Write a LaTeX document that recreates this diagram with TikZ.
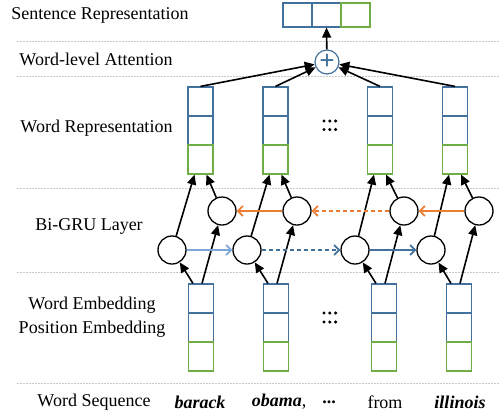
\documentclass[tikz,border=0pt]{standalone}
\usepackage{fontspec}
\setmainfont{Liberation Serif}
\usetikzlibrary{arrows.meta}
\definecolor{myblue}{HTML}{41719C}
\definecolor{mylightblue}{HTML}{7DA7D9}
\definecolor{mygreen}{HTML}{70AD47}
\definecolor{myorange}{HTML}{ED7D31}
\definecolor{sepgray}{HTML}{C8C8C8}
\tikzset{
  cell/.style={draw, line width=1.2pt, minimum width=25pt, minimum height=29pt, inner sep=0pt, fill=white},
  bluecell/.style={cell, draw=myblue},
  greencell/.style={cell, draw=mygreen},
  gru/.style={circle, draw, line width=1.3pt, minimum size=28pt, inner sep=0pt},
  arr/.style={-{Triangle[length=10pt,width=9pt]}, line width=1.6pt},
  harr/.style={-{Straight Barb[length=5pt,width=10pt]}, line width=1.8pt},
  sep/.style={sepgray, line width=0.8pt, dash pattern=on 2pt off 1pt},
  lab/.style={font=\fontsize{18}{21}\selectfont, inner sep=0pt},
  dot/.style={fill, circle, inner sep=0pt, minimum size=3.4pt},
}

\begin{document}
\begin{tikzpicture}[x=1pt, y=-1pt]
        \useasboundingbox (0,0) rectangle (499,416);
        % layer separators
        \draw[sep] (17,41) -- (499,41); \draw[sep] (17,76) -- (499,76);
        \draw[sep] (17,188) -- (499,188); \draw[sep] (17,272) -- (499,272);
        \draw[sep] (17,383) -- (499,383);
        % layer names
        \node[lab] (lsent) at (100,15) {Sentence Representation};
        \node[lab] (latt) at (96,59) {Word-level Attention};
        \node[lab] (lrep) at (96.5,128) {Word Representation};
        \node[lab] (lgru) at (89,226) {Bi-GRU Layer};
        \node[lab] (lemb) at (92,305) {Word Embedding};
        \node[lab] (lpos) at (92,329) {Position Embedding};
        \node[lab] (lseq) at (94,402) {Word Sequence};
        % sentence representation
        \node[bluecell, minimum width=29pt, minimum height=24pt] (s1) at (297.5,15) {};
        \node[bluecell, minimum width=29pt, minimum height=24pt] (s2) at (326.5,15) {};
        \node[greencell, minimum width=29pt, minimum height=24pt] (s3) at (355.5,15) {};
        \node[circle, draw=myblue, line width=1.2pt, minimum size=24pt, inner sep=0pt, text=myblue,
              font=\fontsize{27}{27}\selectfont\bfseries] (plus) at (327,62) {+};
        % word representation
        \node[bluecell] (r1a) at (200.5,101.5) {}; \node[bluecell] (r1b) at (200.5,130.5) {}; \node[greencell] (r1c) at (200.5,159.5) {};
        \node[bluecell] (r2a) at (275.5,101.5) {}; \node[bluecell] (r2b) at (275.5,130.5) {}; \node[greencell] (r2c) at (275.5,159.5) {};
        \node[bluecell] (r3a) at (380,101.5) {}; \node[bluecell] (r3b) at (380,130.5) {}; \node[greencell] (r3c) at (380,159.5) {};
        \node[bluecell] (r4a) at (455,101.5) {}; \node[bluecell] (r4b) at (455,130.5) {}; \node[greencell] (r4c) at (455,159.5) {};
        % bi-gru cells
        \node[gru] (l1) at (172,250) {}; \node[gru] (l2) at (247,250) {}; \node[gru] (l3) at (355,250) {}; \node[gru] (l4) at (431,250) {};
        \node[gru] (u1) at (222,211) {}; \node[gru] (u2) at (297,211) {}; \node[gru] (u3) at (404,211) {}; \node[gru] (u4) at (479,211) {};
        % embeddings
        \node[bluecell] (e1a) at (201,298.5) {}; \node[bluecell] (e1b) at (201,327.5) {}; \node[greencell] (e1c) at (201,356.5) {};
        \node[bluecell] (e2a) at (276,298.5) {}; \node[bluecell] (e2b) at (276,327.5) {}; \node[greencell] (e2c) at (276,356.5) {};
        \node[bluecell] (e3a) at (384,298.5) {}; \node[bluecell] (e3b) at (384,327.5) {}; \node[greencell] (e3c) at (384,356.5) {};
        \node[bluecell] (e4a) at (459,298.5) {}; \node[bluecell] (e4b) at (459,327.5) {}; \node[greencell] (e4c) at (459,356.5) {};
        % elided columns
        \foreach \dx in {-5.8,0,5.8}
          \foreach \dy in {121,129.5,313,322}
            \node[dot] at (329.8+\dx,\dy) {};
        % word sequence
        \node[lab] (w1) at (200,402) {\textbf{\textit{barack}}};
        \node[lab] (w2) at (279,402) {\textbf{\textit{obama}},};
        \node[lab] (w3) at (329,402) {\textbf{...}};
        \node[lab] (w4) at (385,402) {from};
        \node[lab] (w5) at (460,402) {\textbf{\textit{illinois}}};
        % embeddings into the gru
        \draw[arr] ([xshift=-8pt]e1a.north) -- (l1); \draw[arr] ([xshift=1pt]e1a.north) -- (u1);
        \draw[arr] ([xshift=-8pt]e2a.north) -- (l2); \draw[arr] ([xshift=1pt]e2a.north) -- (u2);
        \draw[arr] ([xshift=-8pt]e3a.north) -- (l3); \draw[arr] ([xshift=1pt]e3a.north) -- (u3);
        \draw[arr] ([xshift=-8pt]e4a.north) -- (l4); \draw[arr] ([xshift=1pt]e4a.north) -- (u4);
        % gru into word representation
        \draw[arr] (l1) -- ([xshift=-6pt]r1c.south); \draw[arr] (u1) -- ([xshift=6pt]r1c.south);
        \draw[arr] (l2) -- ([xshift=-6pt]r2c.south); \draw[arr] (u2) -- ([xshift=6pt]r2c.south);
        \draw[arr] (l3) -- ([xshift=-6pt]r3c.south); \draw[arr] (u3) -- ([xshift=6pt]r3c.south);
        \draw[arr] (l4) -- ([xshift=-6pt]r4c.south); \draw[arr] (u4) -- ([xshift=6pt]r4c.south);
        % forward and backward passes
        \draw[harr, mylightblue] (l1) -- (l2);
        \draw[harr, myblue, dash pattern=on 4pt off 3pt] (l2) -- (l3);
        \draw[harr, myblue] (l3) -- (l4);
        \draw[harr, myorange] (u4) -- (u3);
        \draw[harr, myorange, dash pattern=on 4pt off 3pt] (u3) -- (u2);
        \draw[harr, myorange] (u2) -- (u1);
        % attention
        \draw[arr] (r1a.north) -- (plus); \draw[arr] (r2a.north) -- (plus);
        \draw[arr] (r3a.north) -- (plus); \draw[arr] (r4a.north) -- (plus);
        \draw[arr] (plus) -- (s2.south);
\end{tikzpicture}
\end{document}
